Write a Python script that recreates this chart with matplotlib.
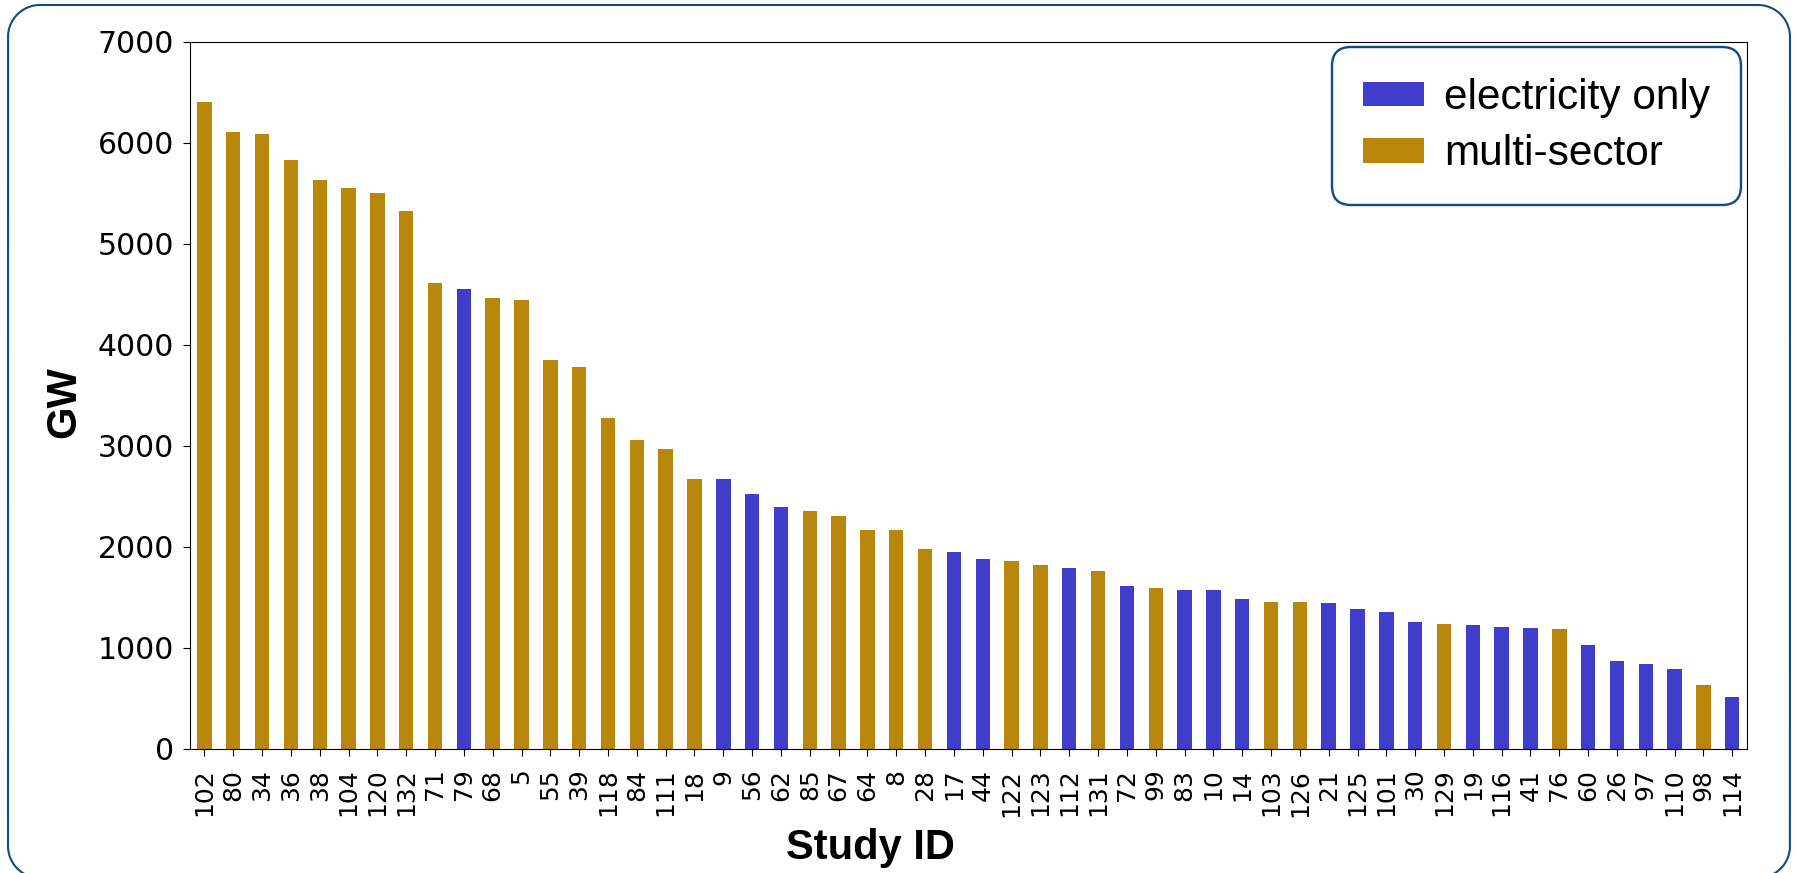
import numpy as np
import matplotlib
matplotlib.use("Agg")
import matplotlib.pyplot as plt
from matplotlib.patches import Patch

# study ids in plotted (descending) order
study_ids = ["102", "80", "34", "36", "38", "104", "120", "132", "71", "79",
             "68", "5", "55", "39", "118", "84", "111", "18", "9", "56",
             "62", "85", "67", "64", "8", "28", "17", "44", "122", "123",
             "112", "131", "72", "99", "83", "10", "14", "103", "126", "21",
             "125", "101", "30", "129", "19", "116", "41", "76", "60", "26",
             "97", "110", "98", "114"]

gw = [6400, 6110, 6085, 5825, 5635, 5555, 5505, 5320, 4610, 4555,
      4465, 4440, 3850, 3775, 3270, 3055, 2970, 2665, 2665, 2520,
      2390, 2348, 2305, 2160, 2160, 1972, 1942, 1873, 1856, 1814,
      1784, 1754, 1612, 1586, 1566, 1566, 1483, 1453, 1453, 1437,
      1381, 1351, 1249, 1236, 1219, 1206, 1193, 1180, 1022, 863,
      833, 790, 632, 513]

electricity_only = {"79", "9", "56", "62", "17", "44", "112", "72", "83", "10",
                    "14", "21", "125", "101", "30", "19", "116", "41", "60",
                    "26", "97", "110", "114"}

sector_labels = ["electricity only", "multi-sector"]
sector_colors = {"electricity only": "#3f3dc9", "multi-sector": "#b8860b"}
frame_color = "#0f4c81"

W, H = 1798, 873


def rounded_outline(x0, y0, x1, y1, r, n=40):
    # polyline of a rounded rectangle in pixel coords (y pointing down)
    pts = []
    corners = [(x1 - r, y0 + r, -90, 0), (x1 - r, y1 - r, 0, 90),
               (x0 + r, y1 - r, 90, 180), (x0 + r, y0 + r, 180, 270)]
    for cx, cy, a0, a1 in corners:
        t = np.radians(np.linspace(a0, a1, n))
        pts.append(np.c_[cx + r * np.cos(t), cy + r * np.sin(t)])
    pts = np.vstack(pts + [pts[0][:1]])
    return pts[:, 0], pts[:, 1]


fig = plt.figure(figsize=(W / 100, H / 100), dpi=100)

# rounded outer frame on a full-figure background axes; bottom edge runs just off the figure
bg = fig.add_axes([0, 0, 1, 1])
bg.set_xlim(0, W)
bg.set_ylim(H, 0)
bg.axis("off")
fx, fy = rounded_outline(8, 5, 1790, H + 5, 32)
bg.plot(fx, fy, color=frame_color, lw=1.5, clip_on=False)

ax = fig.add_axes([190 / W, 1 - 748.5 / H, (1746.7 - 190) / W, (748.5 - 41.7) / H])

colors = [sector_colors["electricity only"] if s in electricity_only
          else sector_colors["multi-sector"] for s in study_ids]
x = range(len(study_ids))
ax.bar(x, gw, width=0.5, color=colors)

ax.set_xlim(-0.5, len(study_ids) - 0.5)
ax.set_ylim(0, 7000)
ax.set_yticks(range(0, 7001, 1000))
ax.set_xticks(list(x))
ax.set_xticklabels(study_ids, rotation=90)
ax.tick_params(axis="x", labelsize=18, length=5, pad=9.5)
ax.tick_params(axis="y", labelsize=21.5, length=5, pad=6.5)

lab_font = dict(family="Liberation Sans", fontsize=30, fontweight="bold")
ax.set_xlabel("Study ID", **lab_font)
ax.xaxis.set_label_coords((870 - 190) / (1746.7 - 190), -(828 - 748.5) / (748.5 - 41.7))
ax.set_ylabel("GW", **lab_font)
ax.yaxis.set_label_coords(-(190 - 84) / (1746.7 - 190), 0.49)

handles = [Patch(facecolor=sector_colors[s], label=s) for s in sector_labels]
leg = ax.legend(handles=handles, loc="upper right", prop={"family": "Liberation Sans", "size": 30.5},
                fancybox=True, framealpha=1, borderaxespad=0.13, borderpad=0.73,
                handlelength=1.43, handleheight=0.52, handletextpad=0.48, labelspacing=0.38)
leg.get_frame().set_edgecolor(frame_color)
leg.get_frame().set_linewidth(1.7)
leg.get_frame().set_boxstyle("round,pad=0,rounding_size=0.45")

fig.savefig("out.png", dpi=100)
